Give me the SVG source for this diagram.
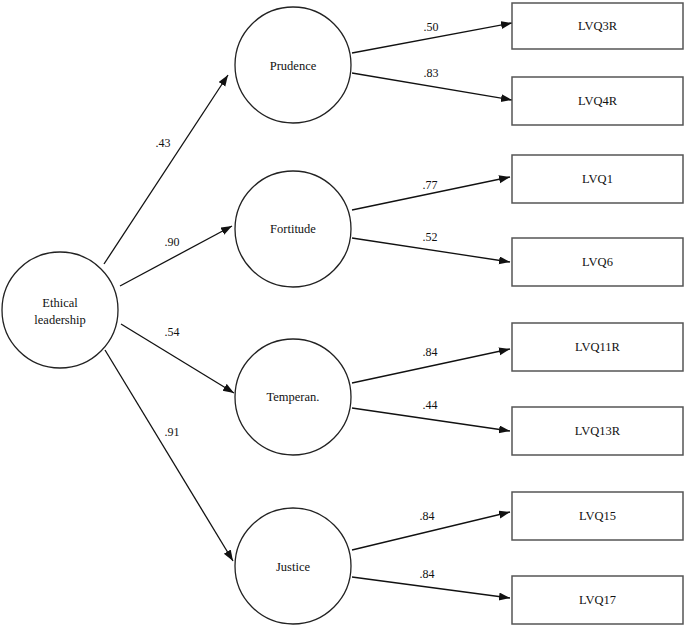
<svg xmlns="http://www.w3.org/2000/svg" width="685" height="626" viewBox="0 0 685 626">
<style>
.c{fill:#fff;stroke:#222;stroke-width:1.3}
.b{fill:#fff;stroke:#555;stroke-width:1.5}
.t{font-family:"Liberation Serif","Times New Roman",serif;font-size:12.5px;fill:#111;text-anchor:middle;dominant-baseline:central}
.l{font-family:"Liberation Serif","Times New Roman",serif;font-size:12px;fill:#111;text-anchor:middle;dominant-baseline:central}
.e{stroke:#111;stroke-width:1.3;fill:none;marker-end:url(#a)}
</style>
<defs>
<marker id="a" markerUnits="userSpaceOnUse" markerWidth="12" markerHeight="10" refX="11" refY="4" orient="auto">
<path d="M0,0 L11,4 L0,8 Z" fill="#111"/>
</marker>
</defs>
<rect width="685" height="626" fill="#fff"/>
<g id="connectors">
<line class="e" x1="104" y1="264" x2="228" y2="75"/>
<line class="e" x1="120" y1="286" x2="232" y2="226"/>
<line class="e" x1="121" y1="324" x2="234" y2="393"/>
<line class="e" x1="105" y1="350" x2="233" y2="561"/>
<line class="e" x1="352" y1="53" x2="512" y2="23"/>
<line class="e" x1="352" y1="73" x2="512" y2="100"/>
<line class="e" x1="352" y1="210" x2="510" y2="177"/>
<line class="e" x1="352" y1="238" x2="510" y2="262"/>
<line class="e" x1="352" y1="383" x2="510" y2="349"/>
<line class="e" x1="352" y1="408" x2="510" y2="431"/>
<line class="e" x1="352" y1="550" x2="510" y2="512"/>
<line class="e" x1="352" y1="577" x2="510" y2="598"/>
<text class="l" x="163" y="143">.43</text>
<text class="l" x="172" y="242">.90</text>
<text class="l" x="172" y="332">.54</text>
<text class="l" x="172" y="432">.91</text>
<text class="l" x="431" y="27">.50</text>
<text class="l" x="431" y="73">.83</text>
<text class="l" x="430" y="185">.77</text>
<text class="l" x="430" y="237">.52</text>
<text class="l" x="430" y="352">.84</text>
<text class="l" x="430" y="405">.44</text>
<text class="l" x="427" y="516">.84</text>
<text class="l" x="427" y="574">.84</text>
</g>
<g id="ethical"><circle class="c" cx="60" cy="310" r="58"/><text class="t" x="60" y="303">Ethical</text><text class="t" x="60" y="320">leadership</text></g>
<g id="prudence"><circle class="c" cx="293" cy="65" r="58"/><text class="t" x="293" y="66">Prudence</text></g>
<g id="fortitude"><circle class="c" cx="293" cy="229" r="58"/><text class="t" x="293" y="229">Fortitude</text></g>
<g id="temperan"><circle class="c" cx="293" cy="397" r="58"/><text class="t" x="293" y="397">Temperan.</text></g>
<g id="justice"><circle class="c" cx="293" cy="566" r="58"/><text class="t" x="293" y="567">Justice</text></g>
<g id="lvq3r"><rect class="b" x="512" y="3" width="171" height="46"/><text class="t" x="597.5" y="26">LVQ3R</text></g>
<g id="lvq4r"><rect class="b" x="512" y="77" width="171" height="48"/><text class="t" x="597.5" y="101">LVQ4R</text></g>
<g id="lvq1"><rect class="b" x="512" y="155" width="171" height="48"/><text class="t" x="597.5" y="179">LVQ1</text></g>
<g id="lvq6"><rect class="b" x="512" y="238" width="171" height="48"/><text class="t" x="597.5" y="262">LVQ6</text></g>
<g id="lvq11r"><rect class="b" x="512" y="323" width="171" height="48"/><text class="t" x="597.5" y="347">LVQ11R</text></g>
<g id="lvq13r"><rect class="b" x="512" y="407" width="171" height="48"/><text class="t" x="597.5" y="431">LVQ13R</text></g>
<g id="lvq15"><rect class="b" x="512" y="492" width="171" height="48"/><text class="t" x="597.5" y="516">LVQ15</text></g>
<g id="lvq17"><rect class="b" x="512" y="576" width="171" height="48"/><text class="t" x="597.5" y="600">LVQ17</text></g>
</svg>
